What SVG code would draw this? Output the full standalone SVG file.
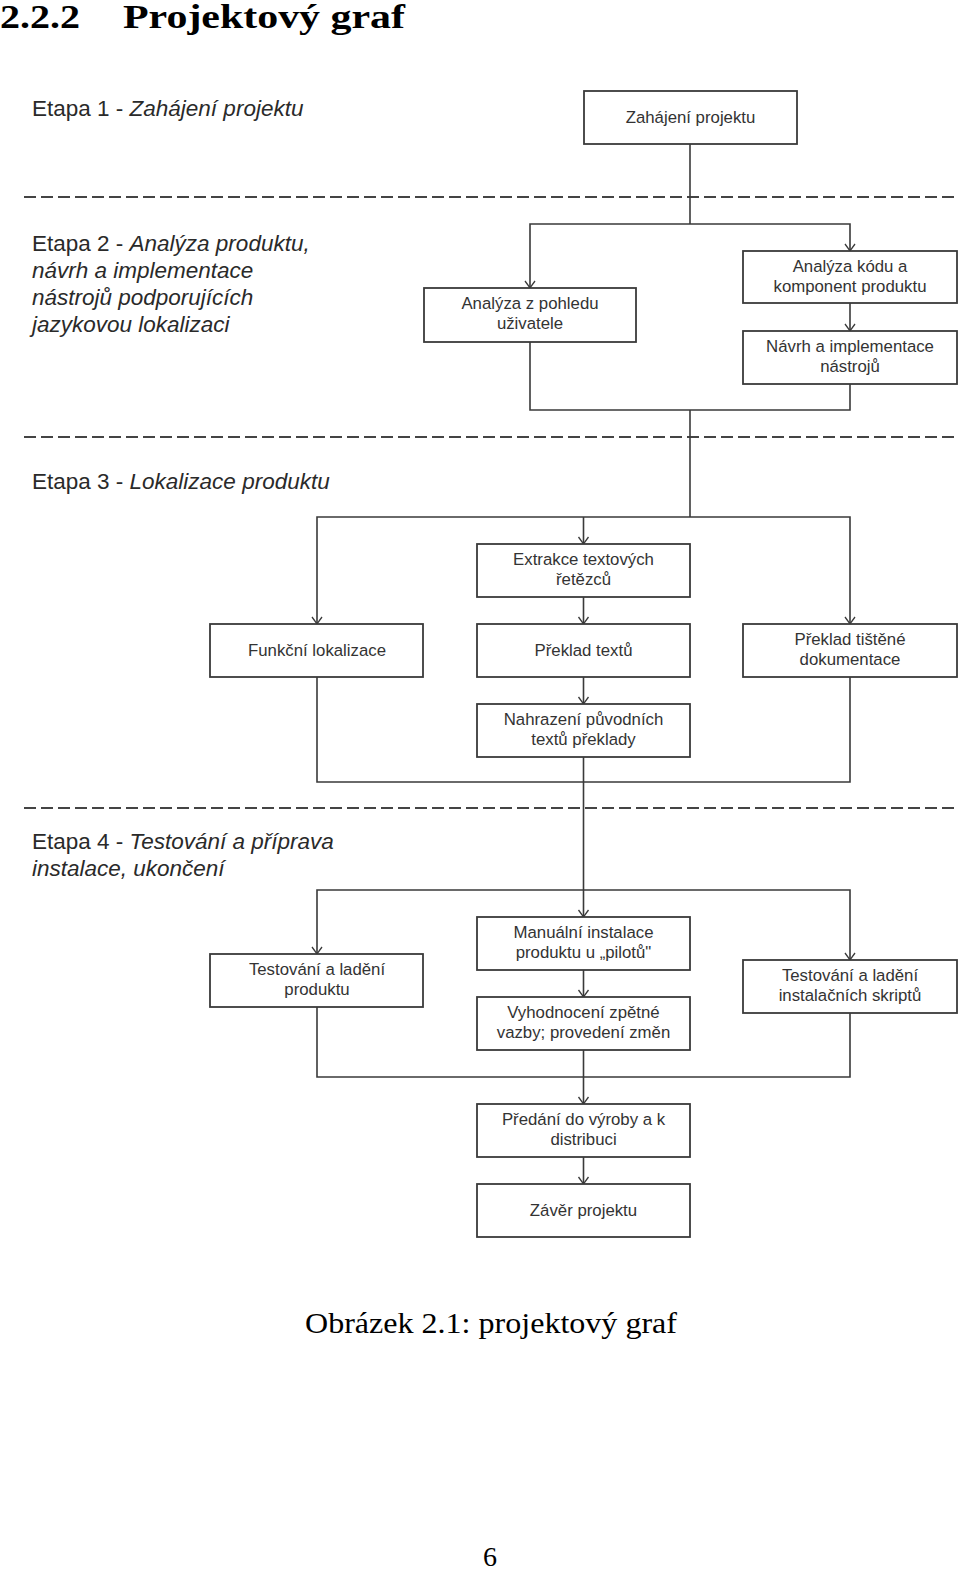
<svg xmlns="http://www.w3.org/2000/svg" width="960" height="1569" viewBox="0 0 960 1569">
<style>
.box{fill:#fff;stroke:#3a3a3a;stroke-width:1.8}
.nt{font-family:"Liberation Sans",Arial,sans-serif;font-size:16.8px;fill:#333;text-anchor:middle}
.et{font-family:"Liberation Sans",Arial,sans-serif;font-size:22.5px;fill:#2a2a2a}
.it{font-style:italic}
.dash{stroke:#444;stroke-width:2;stroke-dasharray:12 5;fill:none}
.con path{fill:none;stroke:#3a3a3a;stroke-width:1.6}
.serif{font-family:"Liberation Serif","Times New Roman",serif;fill:#000}
</style>
<defs>
<marker id="arr" markerUnits="userSpaceOnUse" markerWidth="20" markerHeight="20" refX="0" refY="0" orient="auto" overflow="visible" viewBox="-10 -10 20 20">
<path d="M-7,-5 L0,0 L-7,5" fill="none" stroke="#3a3a3a" stroke-width="1.3"/>
</marker>
</defs>
<rect width="960" height="1569" fill="#fff"/>
<text class="serif" x="0" y="28" font-size="34" font-weight="bold" textLength="80" lengthAdjust="spacingAndGlyphs">2.2.2</text>
<text class="serif" x="123" y="28" font-size="34" font-weight="bold" textLength="282" lengthAdjust="spacingAndGlyphs">Projektový graf</text>

<g id="stages">
<text class="et" x="32" y="116">Etapa 1 - <tspan class="it">Zahájení projektu</tspan></text>
<text class="et" x="32" y="251">Etapa 2 - <tspan class="it">Analýza produktu,</tspan></text>
<text class="et it" x="32" y="278">návrh a implementace</text>
<text class="et it" x="32" y="305">nástrojů podporujících</text>
<text class="et it" x="32" y="332">jazykovou lokalizaci</text>
<text class="et" x="32" y="489">Etapa 3 - <tspan class="it">Lokalizace produktu</tspan></text>
<text class="et" x="32" y="849">Etapa 4 - <tspan class="it">Testování a příprava</tspan></text>
<text class="et it" x="32" y="876">instalace, ukončení</text>
</g>

<g id="separators">
<path class="dash" d="M24 197 H958"/>
<path class="dash" d="M24 437 H958"/>
<path class="dash" d="M24 808 H958"/>
</g>

<g id="connectors" class="con">
<path d="M690 144 V224"/>
<path d="M690 224 H530 V288" marker-end="url(#arr)"/>
<path d="M690 224 H850 V251" marker-end="url(#arr)"/>
<path d="M850 303 V331" marker-end="url(#arr)"/>
<path d="M530 342 V410 H850 V384"/>
<path d="M690 410 V517"/>
<path d="M690 517 H317 V624" marker-end="url(#arr)"/>
<path d="M583.5 517 V544" marker-end="url(#arr)"/>
<path d="M690 517 H850 V624" marker-end="url(#arr)"/>
<path d="M583.5 597 V624" marker-end="url(#arr)"/>
<path d="M583.5 677 V704" marker-end="url(#arr)"/>
<path d="M317 677 V782 H850 V677"/>
<path d="M583.5 757 V890"/>
<path d="M583.5 890 H317 V954" marker-end="url(#arr)"/>
<path d="M583.5 890 V917" marker-end="url(#arr)"/>
<path d="M583.5 890 H850 V960" marker-end="url(#arr)"/>
<path d="M583.5 970 V997" marker-end="url(#arr)"/>
<path d="M317 1007 V1077 H850 V1013"/>
<path d="M583.5 1050 V1104" marker-end="url(#arr)"/>
<path d="M583.5 1157 V1184" marker-end="url(#arr)"/>
</g>

<g id="n1"><rect class="box" x="584" y="91" width="213" height="53"/><text class="nt" x="690.5" y="123">Zahájení projektu</text></g>
<g id="n2"><rect class="box" x="424" y="288" width="212" height="54"/><text class="nt" x="530" y="309">Analýza z pohledu</text><text class="nt" x="530" y="329">uživatele</text></g>
<g id="n3"><rect class="box" x="743" y="251" width="214" height="52"/><text class="nt" x="850" y="272">Analýza kódu a</text><text class="nt" x="850" y="292">komponent produktu</text></g>
<g id="n4"><rect class="box" x="743" y="331" width="214" height="53"/><text class="nt" x="850" y="352">Návrh a implementace</text><text class="nt" x="850" y="372">nástrojů</text></g>
<g id="n5"><rect class="box" x="477" y="544" width="213" height="53"/><text class="nt" x="583.5" y="565">Extrakce textových</text><text class="nt" x="583.5" y="585">řetězců</text></g>
<g id="n6"><rect class="box" x="210" y="624" width="213" height="53"/><text class="nt" x="317" y="656">Funkční lokalizace</text></g>
<g id="n7"><rect class="box" x="477" y="624" width="213" height="53"/><text class="nt" x="583.5" y="656">Překlad textů</text></g>
<g id="n8"><rect class="box" x="743" y="624" width="214" height="53"/><text class="nt" x="850" y="645">Překlad tištěné</text><text class="nt" x="850" y="665">dokumentace</text></g>
<g id="n9"><rect class="box" x="477" y="704" width="213" height="53"/><text class="nt" x="583.5" y="725">Nahrazení původních</text><text class="nt" x="583.5" y="745">textů překlady</text></g>
<g id="n10"><rect class="box" x="210" y="954" width="213" height="53"/><text class="nt" x="317" y="975">Testování a ladění</text><text class="nt" x="317" y="995">produktu</text></g>
<g id="n11"><rect class="box" x="477" y="917" width="213" height="53"/><text class="nt" x="583.5" y="938">Manuální instalace</text><text class="nt" x="583.5" y="958">produktu u „pilotů"</text></g>
<g id="n12"><rect class="box" x="477" y="997" width="213" height="53"/><text class="nt" x="583.5" y="1018">Vyhodnocení zpětné</text><text class="nt" x="583.5" y="1038">vazby; provedení změn</text></g>
<g id="n13"><rect class="box" x="743" y="960" width="214" height="53"/><text class="nt" x="850" y="981">Testování a ladění</text><text class="nt" x="850" y="1001">instalačních skriptů</text></g>
<g id="n14"><rect class="box" x="477" y="1104" width="213" height="53"/><text class="nt" x="583.5" y="1125">Předání do výroby a k</text><text class="nt" x="583.5" y="1145">distribuci</text></g>
<g id="n15"><rect class="box" x="477" y="1184" width="213" height="53"/><text class="nt" x="583.5" y="1216">Závěr projektu</text></g>

<text class="serif" x="305" y="1333" font-size="29" textLength="372" lengthAdjust="spacingAndGlyphs">Obrázek 2.1: projektový graf</text>
<text class="serif" x="490" y="1566" font-size="28" text-anchor="middle">6</text>
</svg>
